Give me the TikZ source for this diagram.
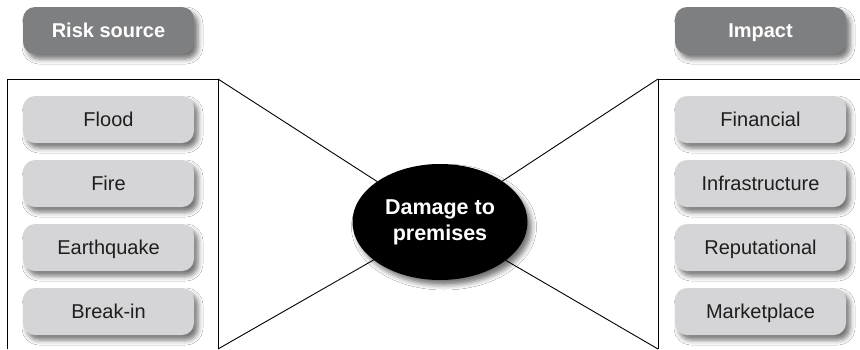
\documentclass[tikz,border=0pt]{standalone}
\usepackage{fontspec}
\setmainfont{Liberation Sans}
\usetikzlibrary{shadows.blur,shapes.geometric}
\definecolor{headgray}{HTML}{7E7F81}
\definecolor{itemgray}{HTML}{D5D5D7}
\definecolor{itemtext}{HTML}{1E1E1E}
\tikzset{
    softshadow/.style={blur shadow={shadow xshift=4pt, shadow yshift=-5pt,
        shadow blur radius=5pt, shadow opacity=55}},
    headbox/.style={fill=headgray, rounded corners=12pt, softshadow,
        minimum width=171pt, minimum height=47pt, inner sep=0pt,
        text height=14.3pt, text depth=0pt,
        text=white, font=\fontsize{20}{24}\selectfont\bfseries},
    itembox/.style={fill=itemgray, rounded corners=12pt, softshadow,
        minimum width=171pt, minimum height=47pt, inner sep=0pt,
        text height=14.3pt, text depth=0pt,
        text=itemtext, font=\fontsize{20}{24}\selectfont},
    eventnode/.style={ellipse, fill=black, softshadow,
        minimum width=175pt, minimum height=116pt, inner sep=0pt,
        text=white, align=center, font=\fontsize{21.5}{26}\selectfont\bfseries}
}
\begin{document}
\begin{tikzpicture}[x=1pt, y=-1pt]
    \useasboundingbox[fill=white] (0,0) rectangle (860,349);

    % Angoli dei due riquadri
    \coordinate (lefttop)  at (7,79);
    \coordinate (leftcorner) at (218,79);
    \coordinate (leftbottom) at (7,349);
    \coordinate (leftfoot) at (218,349);
    \coordinate (rightcorner) at (658,79);
    \coordinate (righttop) at (860,79);
    \coordinate (rightfoot) at (658,349);

    % Riquadri aperti in basso
    \draw[line width=0.9pt] (leftbottom) -- (lefttop) -- (leftcorner) -- (leftfoot);
    \draw[line width=0.9pt] (rightfoot) -- (rightcorner) -- (righttop);

    % Evento centrale
    \node[eventnode] (damage) at (440,222) {Damage to\\premises};

    % Linee verso l'evento
    \foreach \c in {leftcorner,leftfoot,rightcorner,rightfoot} {
        \draw[line width=0.9pt] (\c) -- (damage);
    }

    % Intestazioni
    \node[headbox] (source) at (108.5,30.5) {Risk source};
    \node[headbox] (impact) at (760.5,30.5) {Impact};

    % Cause a sinistra
    \foreach \name [count=\i] in {Flood,Fire,Earthquake,Break-in} {
        \node[itembox] (cause\i) at (108.5,{55.5+\i*64}) {\name};
    }

    % Conseguenze a destra
    \foreach \name [count=\i] in {Financial,Infrastructure,Reputational,Marketplace} {
        \node[itembox] (effect\i) at (760.5,{55.5+\i*64}) {\name};
    }
\end{tikzpicture}
\end{document}
